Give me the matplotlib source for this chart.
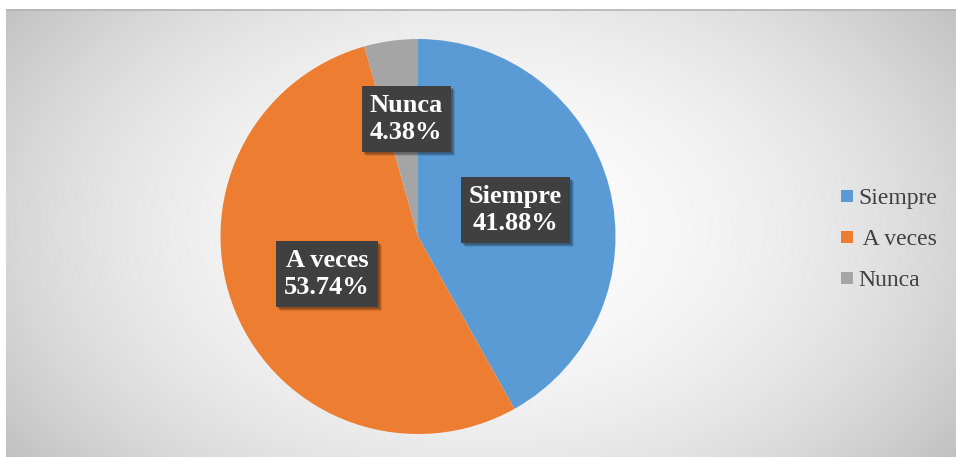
import numpy as np
import matplotlib
matplotlib.use("Agg")
import matplotlib.pyplot as plt
from matplotlib.patches import Rectangle
from matplotlib.transforms import IdentityTransform

categories = ["Siempre", "A veces", "Nunca"]
legend_labels = ["Siempre", " A veces", "Nunca"]
percentages = [41.88, 53.74, 4.38]
colors = ["#5b9bd5", "#ed7d31", "#a5a5a5"]

# label centres in pie-axes data units (radius = 1)
label_pos = [(0.494, 0.135), (-0.461, -0.190), (-0.06, 0.595)]

W, H = 956, 457
fig = plt.figure(figsize=(W / 100, H / 100), dpi=100)
fig.patch.set_facecolor("white")

# radial grey background of the chart area
x0, y0 = 6, 9
bg = fig.add_axes([x0 / W, 0, 1 - x0 / W, (H - y0) / H])
bw, bh = W - x0, H - y0
xx, yy = np.meshgrid(np.arange(bw), np.arange(bh))
cx, cy = 480 - x0, 230 - y0
d = np.sqrt(((xx - cx) / 1.0) ** 2 + ((yy - cy) * 1.5) ** 2)
d = d / d.max()
val = (253 - 60 * d ** 2.0) / 255.0
img = np.dstack([val, val, val])
bg.imshow(img, aspect="auto", extent=[0, bw, bh, 0], interpolation="bilinear")
bg.set_xlim(0, bw)
bg.set_ylim(bh, 0)
bg.axis("off")
bg.plot([0, bw], [0.5, 0.5], color="#b5b5b5", lw=1.2)

# pie
cxp, cyp, R = 418, 236.5, 197.5
ax = fig.add_axes([(cxp - R) / W, (H - cyp - R) / H, 2 * R / W, 2 * R / H])
ax.set_facecolor("none")
ax.pie(percentages, colors=colors, startangle=90, counterclock=False,
       radius=1, wedgeprops=dict(linewidth=0))
ax.set_xlim(-1, 1)
ax.set_ylim(-1, 1)
ax.set_aspect("equal")
ax.axis("off")

plt.rcParams["hatch.color"] = "#555555"
plt.rcParams["hatch.linewidth"] = 1.0
labels = []
for cat, pct, (lx, ly) in zip(categories, percentages, label_pos):
    t = ax.text(lx, ly, f"{cat}\n{pct:.2f}%", ha="center", va="center",
                family="Liberation Serif", fontweight="bold", fontsize=19,
                color="white", linespacing=1.22, zorder=5,
                bbox=dict(boxstyle="square,pad=0.3", facecolor="#404040",
                          edgecolor="#404040", linewidth=0, hatch=".."))
    labels.append(t)

# soft drop shadows behind the label boxes
fig.canvas.draw()
for t in labels:
    ext = t.get_bbox_patch().get_window_extent()
    for k, a in ((4, 0.10), (3, 0.15), (2, 0.2)):
        shadow = Rectangle((ext.x0 + k, ext.y0 - k), ext.width, ext.height,
                           transform=IdentityTransform(), facecolor="black",
                           edgecolor="none", alpha=a, zorder=4)
        ax.add_artist(shadow)

# legend
lx_sq, lx_txt = 841, 858
ys = [196, 237, 278]
sq = 12
for lab, c, y in zip(legend_labels, colors, ys):
    fig.patches.append(Rectangle((lx_sq / W, (H - y - sq / 2) / H), sq / W, sq / H,
                                 transform=fig.transFigure, facecolor=c,
                                 edgecolor="none"))
    fig.text(lx_txt / W, (H - y) / H, lab, ha="left", va="center_baseline",
             family="Liberation Serif", fontsize=17, color="#404040")

fig.savefig("out.png", dpi=100, facecolor=fig.get_facecolor())
